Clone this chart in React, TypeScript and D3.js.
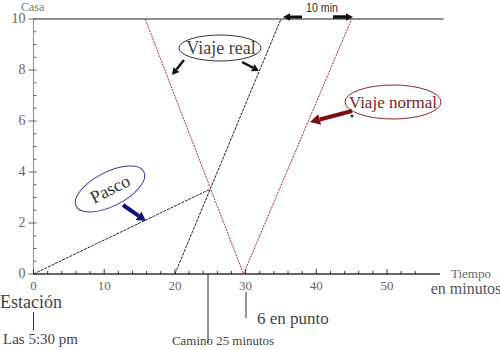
import React from "react";
import * as d3 from "d3";

const xTicks = [0, 10, 20, 30, 40, 50];
const yTicks = [0, 2, 4, 6, 8, 10];
const paseo = [{ t: 0, d: 0 }, { t: 25, d: 3.33 }];
const viajeReal = [{ t: 20, d: 0 }, { t: 35, d: 10 }];
const viajeRealIda = [{ t: 15.8, d: 10 }, { t: 29.7, d: 0 }];
const viajeNormal = [{ t: 29.7, d: 0 }, { t: 45, d: 10 }];
const casaLine = [{ t: 0, d: 10 }, { t: 58, d: 10 }];

const W = 500, H = 350;
const serif = "\"Liberation Serif\"";
const sans = "\"Liberation Sans\"";

export default function App() {
  const x = d3.scaleLinear().domain([0, 50]).range([33.5, 387]);
  const y = d3.scaleLinear().domain([0, 10]).range([274, 19]);
  const line = d3.line<{ t: number; d: number }>().x(p => x(p.t)).y(p => y(p.d));
  const minorX = d3.range(0, 56, 2);
  const minorY = d3.range(0, 10.01, 0.5);
  const sf = (size: number, fill: string): React.CSSProperties => ({ fontFamily: serif, fontSize: size, fill });

  const arrow = (x1: number, y1: number, x2: number, y2: number, color: string, w: number, head: number) => {
    const ang = Math.atan2(y2 - y1, x2 - x1);
    const bx = x2 - Math.cos(ang) * head, by = y2 - Math.sin(ang) * head;
    const px = -Math.sin(ang), py = Math.cos(ang);
    const hw = head * 0.55;
    return (
      <g>
        <line x1={x1} y1={y1} x2={bx} y2={by} stroke={color} strokeWidth={w} />
        <path d={`M${x2},${y2} L${bx + px * hw},${by + py * hw} L${bx - px * hw},${by - py * hw} Z`} fill={color} />
      </g>
    );
  };

  return (
    <svg width={W} height={H} style={{ position: "absolute", left: 0, top: 0, background: "#fff" }}>
      <path d={line(casaLine)!} stroke="#222" strokeWidth={1.2} fill="none" />
      <line x1={x(0)} y1={y(0)} x2={x(0)} y2={y(10)} stroke="#999" strokeWidth={1.2} />
      {minorY.map(v => (
        <line key={"my" + v} x1={x(0)} x2={x(0) + 3} y1={y(v)} y2={y(v)} stroke="#666" strokeWidth={1} />
      ))}
      {yTicks.map(v => (
        <g key={"y" + v}>
          <line x1={x(0) - 5} x2={x(0)} y1={y(v)} y2={y(v)} stroke="#666" />
          <text x={x(0) - 8} y={y(v) + 4} textAnchor="end" style={sf(14, "#666")}>{v}</text>
        </g>
      ))}
      <text x={21} y={11} style={sf(12, "#777")}>Casa</text>
      <line x1={x(0)} y1={y(0)} x2={x(57.5)} y2={y(0)} stroke="#333" strokeWidth={1.6} />
      {minorX.map(v => (
        <line key={"mx" + v} x1={x(v)} x2={x(v)} y1={y(0)} y2={y(0) - (v % 10 === 0 ? 5 : 3)} stroke="#333" strokeWidth={1} />
      ))}
      {xTicks.map(v => (
        <text key={"x" + v} x={x(v)} y={y(0) + 16} textAnchor="middle" style={sf(13, "#666")}>{v}</text>
      ))}
      <text x={471} y={278} textAnchor="middle" style={sf(13, "#666")}>Tiempo</text>
      <text x={466} y={294} textAnchor="middle" style={sf(16, "#555")}>en minutos</text>

      <path d={line(paseo)!} stroke="#222" strokeWidth={1} fill="none" strokeDasharray="3,1" />
      <path d={line(viajeReal)!} stroke="#222" strokeWidth={1} fill="none" strokeDasharray="3,1" />
      <path d={line(viajeRealIda)!} stroke="#a03030" strokeWidth={1} fill="none" strokeDasharray="2,1" />
      <path d={line(viajeNormal)!} stroke="#a03030" strokeWidth={1} fill="none" strokeDasharray="2,1" />

      <text x={322} y={12} textAnchor="middle" style={{ fontFamily: sans, fontSize: 12, fill: "#333" }} textLength={32} lengthAdjust="spacingAndGlyphs">10 min</text>
      {arrow(302, 17, 283, 17, "#111", 3, 7)}
      {arrow(333, 17, 353, 17, "#111", 3.5, 7)}

      <ellipse cx={220} cy={48} rx={41} ry={13} fill="#fff" stroke="#333" strokeWidth={1} />
      <text x={221} y={54} textAnchor="middle" style={sf(18, "#444")}>Viaje real</text>
      {arrow(184, 60, 172, 75, "#111", 2.5, 7)}
      {arrow(242, 62, 259, 71, "#111", 2.5, 7)}

      <ellipse cx={393} cy={102} rx={48} ry={17} fill="#fff" stroke="#8b2a2a" strokeWidth={1} />
      <text x={393} y={108} textAnchor="middle" style={sf(17, "#7a1f1f")}>Viaje normal</text>
      {arrow(352, 111, 310, 122, "#7a1010", 4, 10)}
      <circle cx={352} cy={116} r={1.5} fill="#333" />

      <g transform="translate(110,189) rotate(-27)">
        <ellipse cx={0} cy={0} rx={38} ry={17} fill="#fff" stroke="#3a3aa0" strokeWidth={1} />
        <text x={0} y={6} textAnchor="middle" style={sf(18, "#333")}>Pasco</text>
      </g>
      {arrow(123, 205, 146, 221, "#101070", 4, 9)}

      <text x={0} y={308} style={sf(18, "#444")}>Estación</text>
      <line x1={x(0)} x2={x(0)} y1={312} y2={330} stroke="#333" />
      <text x={3} y={344} style={sf(15, "#444")}>Las 5:30 pm</text>

      <line x1={208} x2={208} y1={y(0)} y2={343} stroke="#222" />
      <text x={172} y={345} style={sf(13, "#444")} textLength={102} lengthAdjust="spacingAndGlyphs">Camino 25 minutos</text>

      <line x1={246} x2={246} y1={292} y2={318} stroke="#333" />
      <text x={257} y={324} style={sf(17, "#444")}>6 en punto</text>
    </svg>
  );
}
